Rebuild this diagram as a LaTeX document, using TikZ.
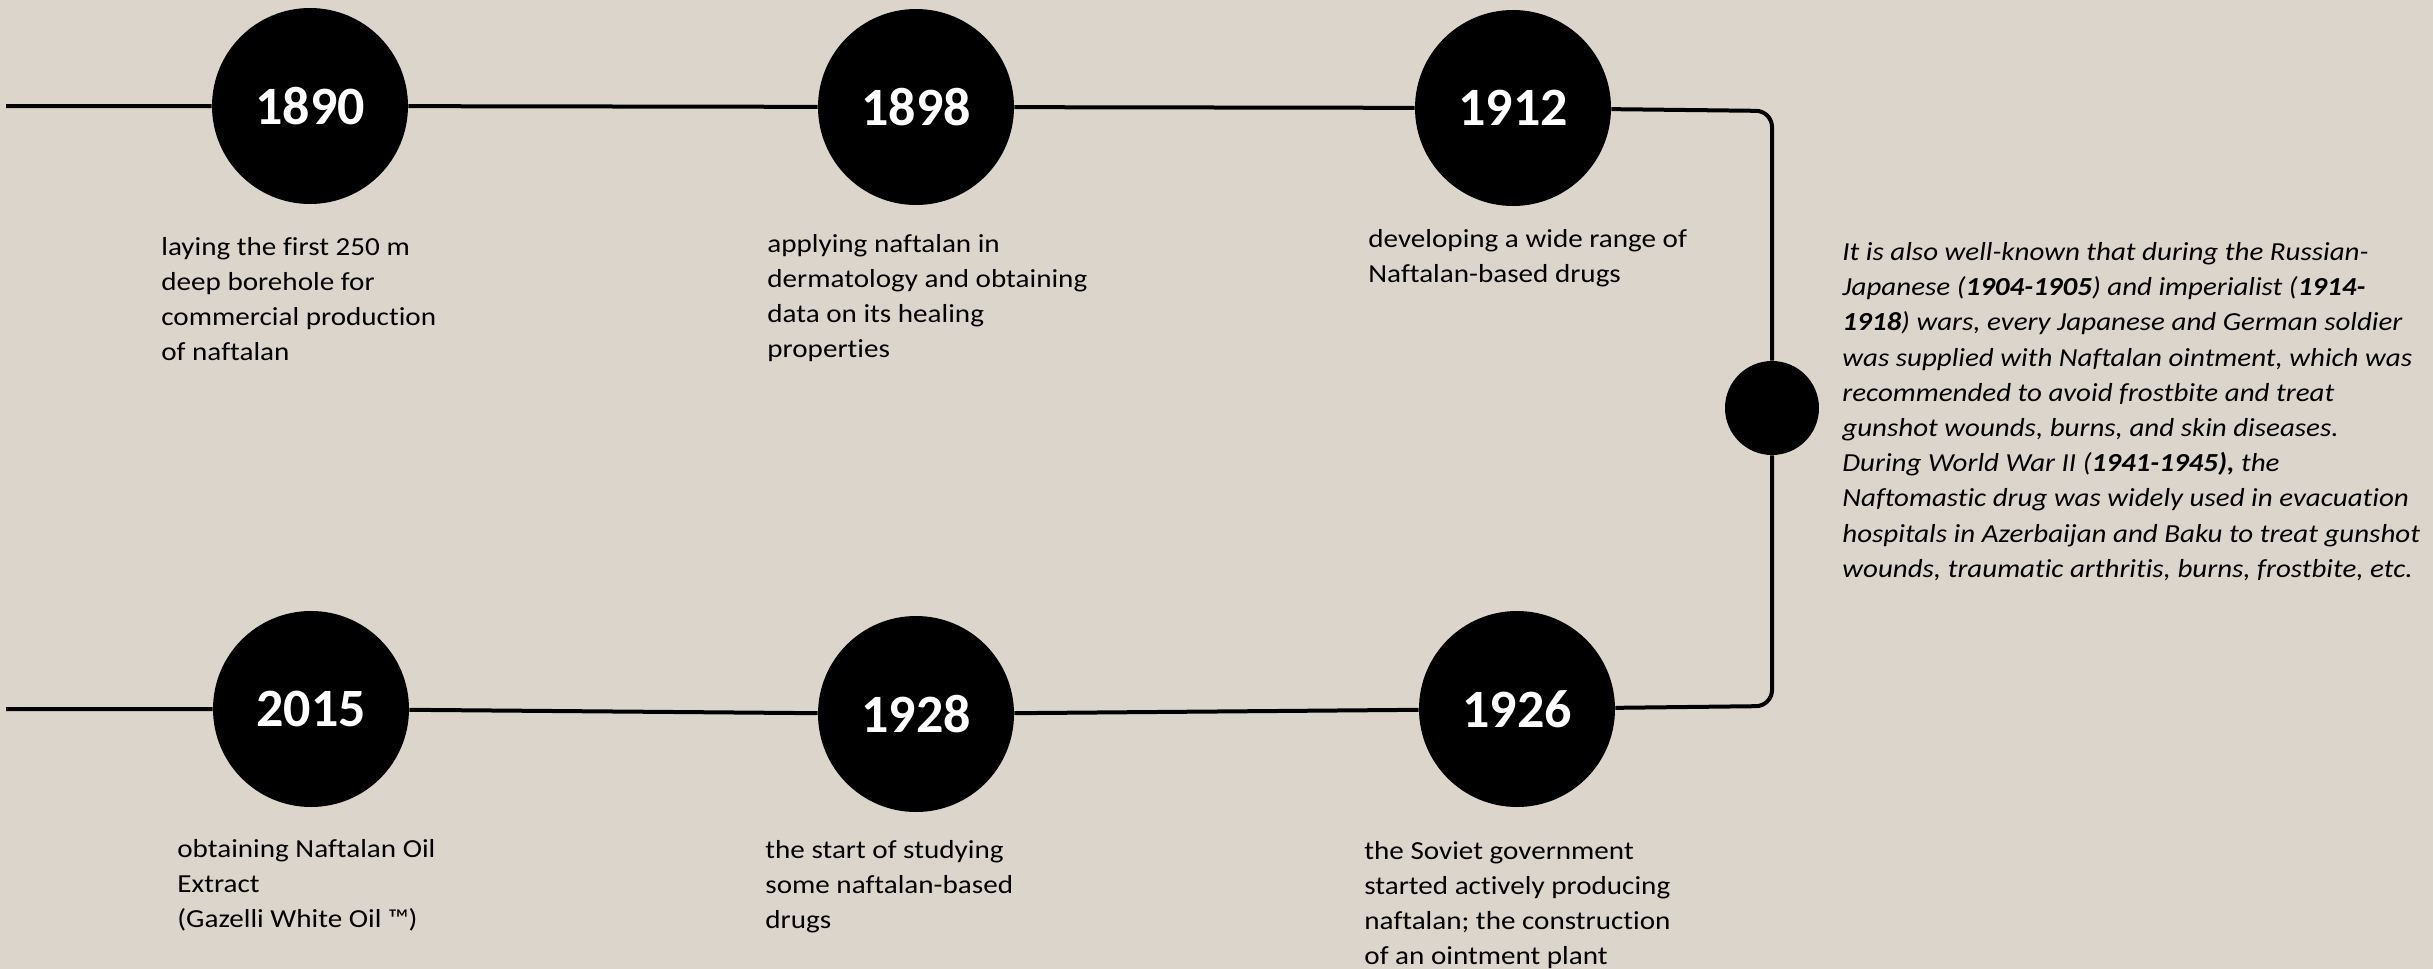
\documentclass[tikz,border=0pt]{standalone}
\usepackage{fontspec}
\setmainfont{Carlito}[FakeStretch=1.12, Ligatures=NoCommon]
\newfontfamily\yearfont{Carlito}
\newfontfamily\warsfont{Carlito}[FakeStretch=1.115, Ligatures=NoCommon]
\definecolor{paper}{RGB}{219,213,204}
\begin{document}
\begin{tikzpicture}[year/.style={shape=circle, fill=black, inner sep=0pt, minimum size=98pt, text=white, font=\yearfont\fontsize{27}{30}\selectfont\bfseries},
    info/.style={anchor=north west, inner sep=0pt, align=left, font=\fontsize{13}{17.5}\selectfont},
    tline/.style={draw, line width=2pt}]

    \fill[paper] (0pt, 0pt) rectangle (1216.5pt, -484.5pt);
    \useasboundingbox (0pt, 0pt) rectangle (1216.5pt, -484.5pt);

    \node at (155pt, -53pt) (Y1890) [year] {1890};
    \node at (458pt, -53.5pt) (Y1898) [year] {1898};
    \node at (756.5pt, -54pt) (Y1912) [year] {1912};
    \node at (886pt, -204pt) (MID) [shape=circle, fill=black, inner sep=0pt, minimum size=47pt] {};
    \node at (155.5pt, -354.5pt) (Y2015) [year] {2015};
    \node at (458pt, -357pt) (Y1928) [year] {1928};
    \node at (758.5pt, -354.5pt) (Y1926) [year] {1926};

    \coordinate (L1) at (3pt, -53pt);
    \coordinate (L2) at (3pt, -354.5pt);
    \coordinate (TR) at (886pt, -55.5pt);
    \coordinate (BR) at (886pt, -353pt);

    \node at (80.5pt, -118.5pt) (T1890) [info] {laying the first 250 m\\deep borehole for\\commercial production\\of naftalan};
    \node at (383.5pt, -117pt) (T1898) [info] {applying naftalan in\\dermatology and obtaining\\data on its healing\\properties};
    \node at (684pt, -114.5pt) (T1912) [info] {developing a wide range of\\Naftalan-based drugs};
    \node at (88.5pt, -419.5pt) (T2015) [info] {obtaining Naftalan Oil\\Extract\\(Gazelli White Oil ™)};
    \node at (382.5pt, -420pt) (T1928) [info] {the start of studying\\some naftalan-based\\drugs};
    \node at (682pt, -420.5pt) (T1926) [info] {the Soviet government\\started actively producing\\naftalan; the construction\\of an ointment plant};
    \node at (921pt, -121pt) (WARS) [info, font=\warsfont\fontsize{13}{17.6}\selectfont\itshape] {It is also well-known that during the Russian-\\Japanese (\textbf{1904-1905}) and imperialist (\textbf{1914-}\\\textbf{1918}) wars, every Japanese and German soldier\\was supplied with Naftalan ointment, which was\\recommended to avoid frostbite and treat\\gunshot wounds, burns, and skin diseases.\\During World War II (\textbf{1941-1945),} the\\Naftomastic drug was widely used in evacuation\\hospitals in Azerbaijan and Baku to treat gunshot\\wounds, traumatic arthritis, burns, frostbite, etc.};

    \path[tline] (L1) -- (Y1890) -- (Y1898) -- (Y1912);
    \path[tline, rounded corners=8pt] (Y1912) -- (TR) -- (MID);
    \path[tline, rounded corners=8pt] (MID) -- (BR) -- (Y1926);
    \path[tline] (L2) -- (Y2015) -- (Y1928) -- (Y1926);

\end{tikzpicture}
\end{document}
